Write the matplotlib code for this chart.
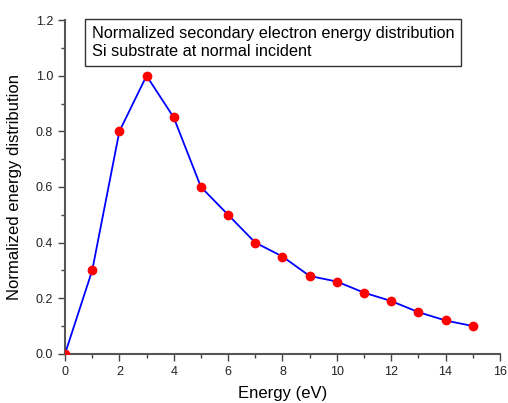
import matplotlib
matplotlib.use("Agg")
import matplotlib.pyplot as plt
from matplotlib.ticker import MultipleLocator

plt.rcParams['font.family'] = ['Liberation Sans', 'DejaVu Sans']

# data
energy = [0, 1, 2, 3, 4, 5, 6, 7, 8, 9, 10, 11, 12, 13, 14, 15]
dist = [0.0, 0.30, 0.80, 1.00, 0.85, 0.60, 0.50, 0.40, 0.35, 0.28,
        0.26, 0.22, 0.19, 0.15, 0.12, 0.10]

fig = plt.figure(figsize=(5.08, 4.03), dpi=100)
ax = fig.add_axes([0.128, 0.122, 0.856, 0.828])

ax.plot(energy, dist, color="blue", lw=1.3, marker="o", ms=6,
        mfc="red", mec="red", zorder=3)

ax.set_xlim(0, 16)
ax.set_ylim(0, 1.2)
ax.xaxis.set_major_locator(MultipleLocator(2))
ax.xaxis.set_minor_locator(MultipleLocator(1))
ax.yaxis.set_major_locator(MultipleLocator(0.2))
ax.yaxis.set_minor_locator(MultipleLocator(0.1))
ax.set_yticklabels([f"{v:.1f}" for v in ax.get_yticks()])

for side in ["top", "right"]:
    ax.spines[side].set_visible(False)
for side in ["left", "bottom"]:
    ax.spines[side].set_color("#555555")
    ax.spines[side].set_linewidth(1.5)

ax.tick_params(which="both", direction="out", color="#444444", labelsize=9,
               labelcolor="#222222")
ax.tick_params(which="major", length=5, width=1)
ax.tick_params(which="minor", length=3, width=1)

ax.set_xlabel("Energy (eV)", fontsize=12, labelpad=6)
ax.set_ylabel("Normalized energy distribution", fontsize=12, labelpad=10)

ax.text(0.062, 0.983,
        "Normalized secondary electron energy distribution\nSi substrate at normal incident",
        transform=ax.transAxes, ha="left", va="top", fontsize=11.7,
        linespacing=1.3,
        bbox=dict(boxstyle="square,pad=0.4", fc="white", ec="#333333", lw=1))

fig.savefig("out.png", dpi=100)
